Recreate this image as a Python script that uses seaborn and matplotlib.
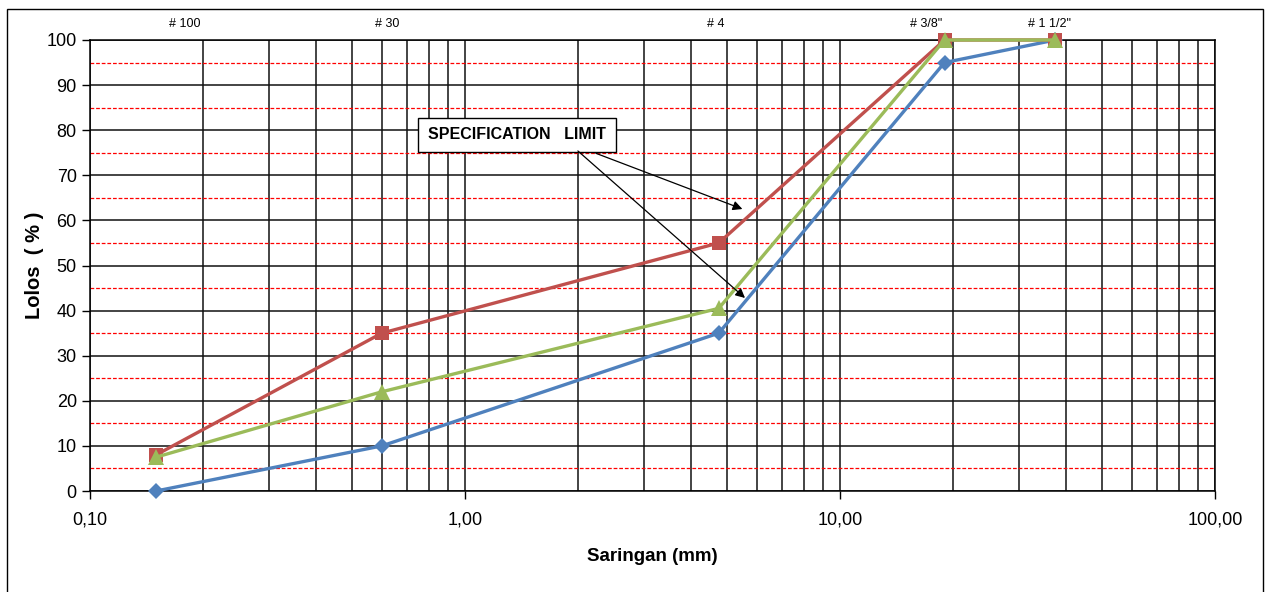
import numpy as np
import pandas as pd
import matplotlib
matplotlib.use("Agg")
import matplotlib.pyplot as plt
from matplotlib.ticker import LogLocator, MultipleLocator, FixedLocator, NullFormatter
from matplotlib.patches import Rectangle
import seaborn as sns

# ---- data ----
sieve_mm = [0.15, 0.6, 4.75, 19.0, 37.5]
upper_limit = [8, 35, 55, 100, 100]
lower_limit = [0, 10, 35, 95, 100]
passing = [7.5, 22, 40.5, 100, 100]
sieve_labels = ["# 100", "# 30", "# 4", "# 3/8\"", "# 1 1/2\""]
sieve_label_x = [0.179, 0.62, 4.66, 17.0, 36.3]
x_ticks = [0.1, 1, 10, 100]
x_tick_labels = ["0,10", "1,00", "10,00", "100,00"]
y_ticks = list(range(0, 101, 10))

sns.set_style("white")
plt.rcParams['font.family'] = ['Liberation Sans', 'DejaVu Sans']
plt.rcParams['text.color'] = 'black'
plt.rcParams['axes.labelcolor'] = 'black'
plt.rcParams['xtick.color'] = 'black'
plt.rcParams['ytick.color'] = 'black'

fig = plt.figure(figsize=(12.71, 5.92), dpi=100)
ax = fig.add_axes([90/1271, 1-491/592, (1215-90)/1271, (491-40)/592])

df = pd.DataFrame({"x": sieve_mm, "upper": upper_limit, "lower": lower_limit, "pass": passing})

sns.lineplot(data=df, x="x", y="lower", ax=ax, color="#4F81BD", lw=2.4, marker="D",
             markersize=8, markeredgewidth=0, zorder=5, clip_on=False)
sns.lineplot(data=df, x="x", y="upper", ax=ax, color="#C0504D", lw=2.4, marker="s",
             markersize=10, markeredgewidth=0, zorder=6, clip_on=False)
sns.lineplot(data=df, x="x", y="pass", ax=ax, color="#9BBB59", lw=2.4, marker="^",
             markersize=11.5, markeredgewidth=0, zorder=7, clip_on=False)

ax.set_xscale("log")
ax.set_xlim(0.1, 100)
ax.set_ylim(0, 100)

ax.xaxis.set_major_locator(FixedLocator(x_ticks))
ax.set_xticklabels(x_tick_labels)
ax.xaxis.set_minor_locator(LogLocator(base=10, subs=np.arange(2, 10)))
ax.xaxis.set_minor_formatter(NullFormatter())
ax.yaxis.set_major_locator(FixedLocator(y_ticks))
ax.yaxis.set_minor_locator(MultipleLocator(5))

ax.tick_params(axis="both", which="major", direction="out", length=6, width=1,
               colors="black", labelsize=13, bottom=True, left=True)
ax.tick_params(axis="x", which="major", pad=9)
ax.tick_params(which="minor", length=0)

ax.grid(which="major", axis="both", color="#111111", lw=1.1)
ax.grid(which="minor", axis="x", color="#111111", lw=1.1)
ax.grid(which="minor", axis="y", color="#FF0000", lw=0.9, ls=(0, (3, 1.5)))
ax.set_axisbelow(True)

for s in ax.spines.values():
    s.set_color("black")
    s.set_linewidth(1.1)

ax.set_xlabel("Saringan (mm)", fontsize=13.5, fontweight="bold", labelpad=14)
ax.set_ylabel("Lolos  ( % )", fontsize=14.5, fontweight="bold", labelpad=2)

for lab, xv in zip(sieve_labels, sieve_label_x):
    ax.text(xv, 1.035, lab, transform=ax.get_xaxis_transform(), ha="center", va="center",
            fontsize=9)

ax.annotate("SPECIFICATION   LIMIT", xy=(5.58, 62.3), xytext=(1.376, 79.0),
            ha="center", va="center", fontsize=11.5, fontweight="bold",
            bbox=dict(boxstyle="square,pad=0.6", fc="white", ec="black", lw=1),
            arrowprops=dict(arrowstyle="-|>", color="black", lw=0.9,
                            relpos=(0.78, 0.0), mutation_scale=14), zorder=10)
ax.annotate("", xy=(5.58, 42.8), xytext=(2.0, 75.4),
            arrowprops=dict(arrowstyle="-|>", color="black", lw=0.9,
                            shrinkA=0, shrinkB=0, mutation_scale=14), zorder=10)

fig.add_artist(Rectangle((7/1271, -0.01), (1263-7)/1271, 1-9/592+0.01,
                         transform=fig.transFigure, fill=False, ec="black", lw=1))

fig.savefig("out.png", dpi=100)
